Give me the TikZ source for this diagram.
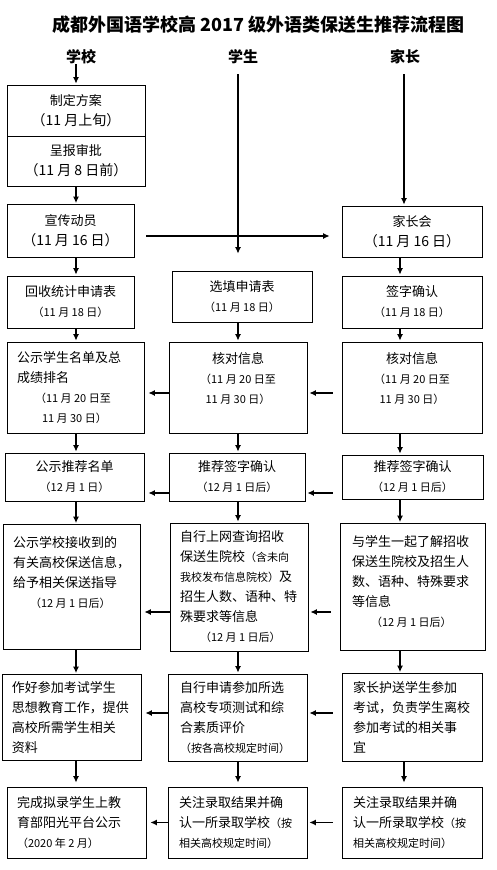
\documentclass[tikz,border=0pt]{standalone}
\usepackage{fontspec}
\setmainfont{Noto Sans CJK SC}
\usetikzlibrary{arrows.meta}
\newcommand{\dsz}{\fontsize{11}{20}\selectfont}
\newcommand{\tsz}{\fontsize{14}{20}\selectfont}
\tikzset{
  procbox/.style={draw, line width=0.8pt, inner sep=0pt, align=center,
    font=\fontsize{13}{20}\selectfont},
  txtbox/.style={procbox, align=flush left},
  colhead/.style={inner sep=0pt, font=\fontsize{15}{18}\selectfont\bfseries},
  arr/.style={-{Latex[length=6.5pt,width=6pt]}, line width=1.1pt, shorten >=1pt},
  arrL/.style={arr, shorten >=4pt},
  arrR/.style={arr, shorten <=9pt, shorten >=2pt}
}

\begin{document}
\begin{tikzpicture}[x=1pt, y=-1pt]
  \useasboundingbox (0,0) rectangle (496,870);
  % title and the three columns
  \node[font=\fontsize{18}{22}\selectfont\bfseries] (title) at (258.5,25)
    {成都外国语学校高 2017 级外语类保送生推荐流程图};
  \node[colhead] (h-xx) at (81,57) {学校};
  \node[colhead] (h-xs) at (243,57) {学生};
  \node[colhead] (h-jz) at (405,57) {家长};
  \coordinate (cA) at (76,0);
  \coordinate (cB) at (238,0);
  \coordinate (cC) at (400,0);
  \coordinate (cD) at (404,0);

  % first stage
  \node[procbox, minimum width=138pt, minimum height=51pt] (zd) at (76,110.5)
    {制定方案\\{\tsz（11~月上旬）}};
  \node[procbox, minimum width=138pt, minimum height=50pt] (cb) at (76,161)
    {呈报审批\\{\tsz（11~月~8~日前）}};
  \node[procbox, minimum width=127pt, minimum height=53pt] (xc) at (70.5,231)
    {宣传动员\\{\tsz（11~月~16~日）}};
  \node[procbox, minimum width=140pt, minimum height=51pt] (jzh) at (412,231.5)
    {家长会\\{\tsz（11~月~16~日）}};

  % application forms
  \node[procbox, minimum width=127pt, minimum height=52pt] (hs) at (70.5,302)
    {回收统计申请表\\{\dsz（11~月~18~日）}};
  \node[procbox, minimum width=140pt, minimum height=51pt] (xt) at (242,296.5)
    {选填申请表\\{\dsz（11~月~18~日）}};
  \node[procbox, minimum width=140pt, minimum height=52pt] (qz) at (412,302)
    {签字确认\\{\dsz（11~月~18~日）}};

  % checking
  \node[txtbox, minimum width=137pt, minimum height=91pt, text width=117pt] (hd1) at (75.5,387.5)
    {公示学生名单及总\\成绩排名\\{\dsz\hspace*{18pt}（11~月~20~日至}\\{\dsz\hspace*{25pt}11~月~30~日）}};
  \node[procbox, minimum width=138pt, minimum height=91pt] (hd2) at (238,387.5)
    {核对信息\\{\dsz（11~月~20~日至}\\{\dsz 11~月~30~日）}\\ \mbox{}};
  \node[procbox, minimum width=140pt, minimum height=91pt] (hd3) at (412,387.5)
    {核对信息\\{\dsz（11~月~20~日至}\\{\dsz 11~月~30~日）}\\ \mbox{}};

  % recommendation
  \node[procbox, minimum width=139pt, minimum height=48pt] (tj1) at (74.5,477)
    {公示推荐名单\\{\dsz（12~月~1~日）}};
  \node[procbox, minimum width=136pt, minimum height=48pt] (tj2) at (237,477)
    {推荐签字确认\\{\dsz（12~月~1~日后）}};
  \node[procbox, minimum width=141pt, minimum height=44pt] (tj3) at (412.5,477)
    {推荐签字确认\\{\dsz（12~月~1~日后）}};

  % information
  \node[txtbox, minimum width=137pt, minimum height=125pt, text width=117pt] (info1) at (71.5,587)
    {公示学校接收到的\\有关高校保送信息，\\给予相关保送指导\\{\dsz\hspace*{17pt}（12~月~1~日后）}\\[10pt]\mbox{}};
  \node[txtbox, minimum width=138pt, minimum height=128pt, text width=118pt] (info2) at (239,587)
    {自行上网查询招收\\保送生院校{\dsz（含未向}\\{\dsz 我校发布信息院校）}及\\招生人数、语种、特\\殊要求等信息\\{\dsz\hspace*{20pt}（12~月~1~日后）}};
  \node[txtbox, minimum width=145pt, minimum height=127pt, text width=121pt] (info3) at (412.5,587)
    {与学生一起了解招收\\保送生院校及招生人\\数、语种、特殊要求\\等信息\\{\dsz\hspace*{19pt}（12~月~1~日后）}\\[-8pt]\mbox{}};

  % examination
  \node[txtbox, minimum width=139pt, minimum height=86pt, text width=119pt] (r5a) at (71.5,717.5)
    {作好参加考试学生\\思想教育工作，提供\\高校所需学生相关\\资料};
  \node[txtbox, minimum width=139pt, minimum height=87pt, text width=115pt] (r5b) at (237.5,717.5)
    {自行申请参加所选\\高校专项测试和综\\合素质评价\\{\dsz（按各高校规定时间）}};
  \node[txtbox, minimum width=140pt, minimum height=88pt, text width=118pt] (r5c) at (412,717.5)
    {家长护送学生参加\\考试，负责学生离校\\参加考试的相关事\\宜};

  % admission
  \node[txtbox, minimum width=139pt, minimum height=71pt, text width=119pt] (r6a) at (76.5,822.5)
    {完成拟录学生上教\\育部阳光平台公示\\{\dsz（2020~年~2~月）}};
  \node[txtbox, minimum width=139pt, minimum height=71pt, text width=117pt] (r6b) at (237.5,822.5)
    {关注录取结果并确\\认一所录取学校{\dsz（按}\\{\dsz 相关高校规定时间）}};
  \node[txtbox, minimum width=140pt, minimum height=71pt, text width=118pt] (r6c) at (412,822.5)
    {关注录取结果并确\\认一所录取学校{\dsz（按}\\{\dsz 相关高校规定时间）}};

  % connectors down the columns
  \draw[arr] (h-xx.south -| cA) -- (zd.north -| cA);
  \draw[arr, shorten <=10pt, shorten >=17pt] (h-xs.south -| cB) -- (xt.north -| cB);
  \draw[arr, shorten <=10pt] (h-jz.south -| cD) -- (jzh.north -| cD);
  \draw[arr] (cb.south -| cA) -- (xc.north -| cA);
  \draw[arr, shorten <=12pt, shorten >=12pt] ([yshift=-5pt]xc.east) -- ([yshift=-5pt]xc.east -| jzh.west);
  \draw[arr] (xc.south -| cA) -- (hs.north -| cA);
  \draw[arr] (jzh.south -| cC) -- (qz.north -| cC);
  \draw[arr] (hs.south -| cA) -- (hd1.north -| cA);
  \draw[arr] (xt.south -| cB) -- (hd2.north -| cB);
  \draw[arr] (qz.south -| cC) -- (hd3.north -| cC);
  \draw[arr] (hd1.south -| cA) -- (tj1.north -| cA);
  \draw[arr] (hd2.south -| cB) -- (tj2.north -| cB);
  \draw[arr] (hd3.south -| cC) -- (tj3.north -| cC);
  \draw[arr] (tj1.south -| cA) -- (info1.north -| cA);
  \draw[arr] (tj2.south -| cB) -- (info2.north -| cB);
  \draw[arr] (tj3.south -| cC) -- (info3.north -| cC);
  \draw[arr] (info1.south -| cA) -- (r5a.north -| cA);
  \draw[arr] (info2.south -| cB) -- (r5b.north -| cB);
  \draw[arr] (info3.south -| cC) -- (r5c.north -| cC);
  \draw[arr, shorten >=4pt] (r5a.south -| cA) -- (r6a.north -| cA);
  \draw[arr, shorten >=4pt] (r5b.south -| cB) -- (r6b.north -| cB);
  \draw[arr, shorten >=4pt] (r5c.south -| cD) -- (r6c.north -| cD);

  % connectors between the columns
  \draw[arrL] ([yshift=-5.5pt]hd2.west) -- ([yshift=-5.5pt]hd1.east);
  \draw[arrR] ([yshift=-5.5pt]hd3.west) -- ([yshift=-5.5pt]hd2.east);
  \draw[arrL] ([yshift=-16pt]tj2.west) -- ([yshift=-16pt]tj1.east);
  \draw[arrR] ([yshift=-16pt]tj3.west) -- ([yshift=-16pt]tj2.east);
  \draw[arrL] ([yshift=-25pt]info2.west) -- ([yshift=-25pt]info1.east);
  \draw[arrR] ([yshift=-25pt]info3.west) -- ([yshift=-25pt]info2.east);
  \draw[arrL] ([yshift=4.5pt]r5b.west) -- ([yshift=4.5pt]r5a.east);
  \draw[arrR] ([yshift=4.5pt]r5c.west) -- ([yshift=4.5pt]r5b.east);
  \draw[arrL] (r6b.west) -- (r6a.east);
  \draw[arrR] (r6c.west) -- (r6b.east);
\end{tikzpicture}
\end{document}
